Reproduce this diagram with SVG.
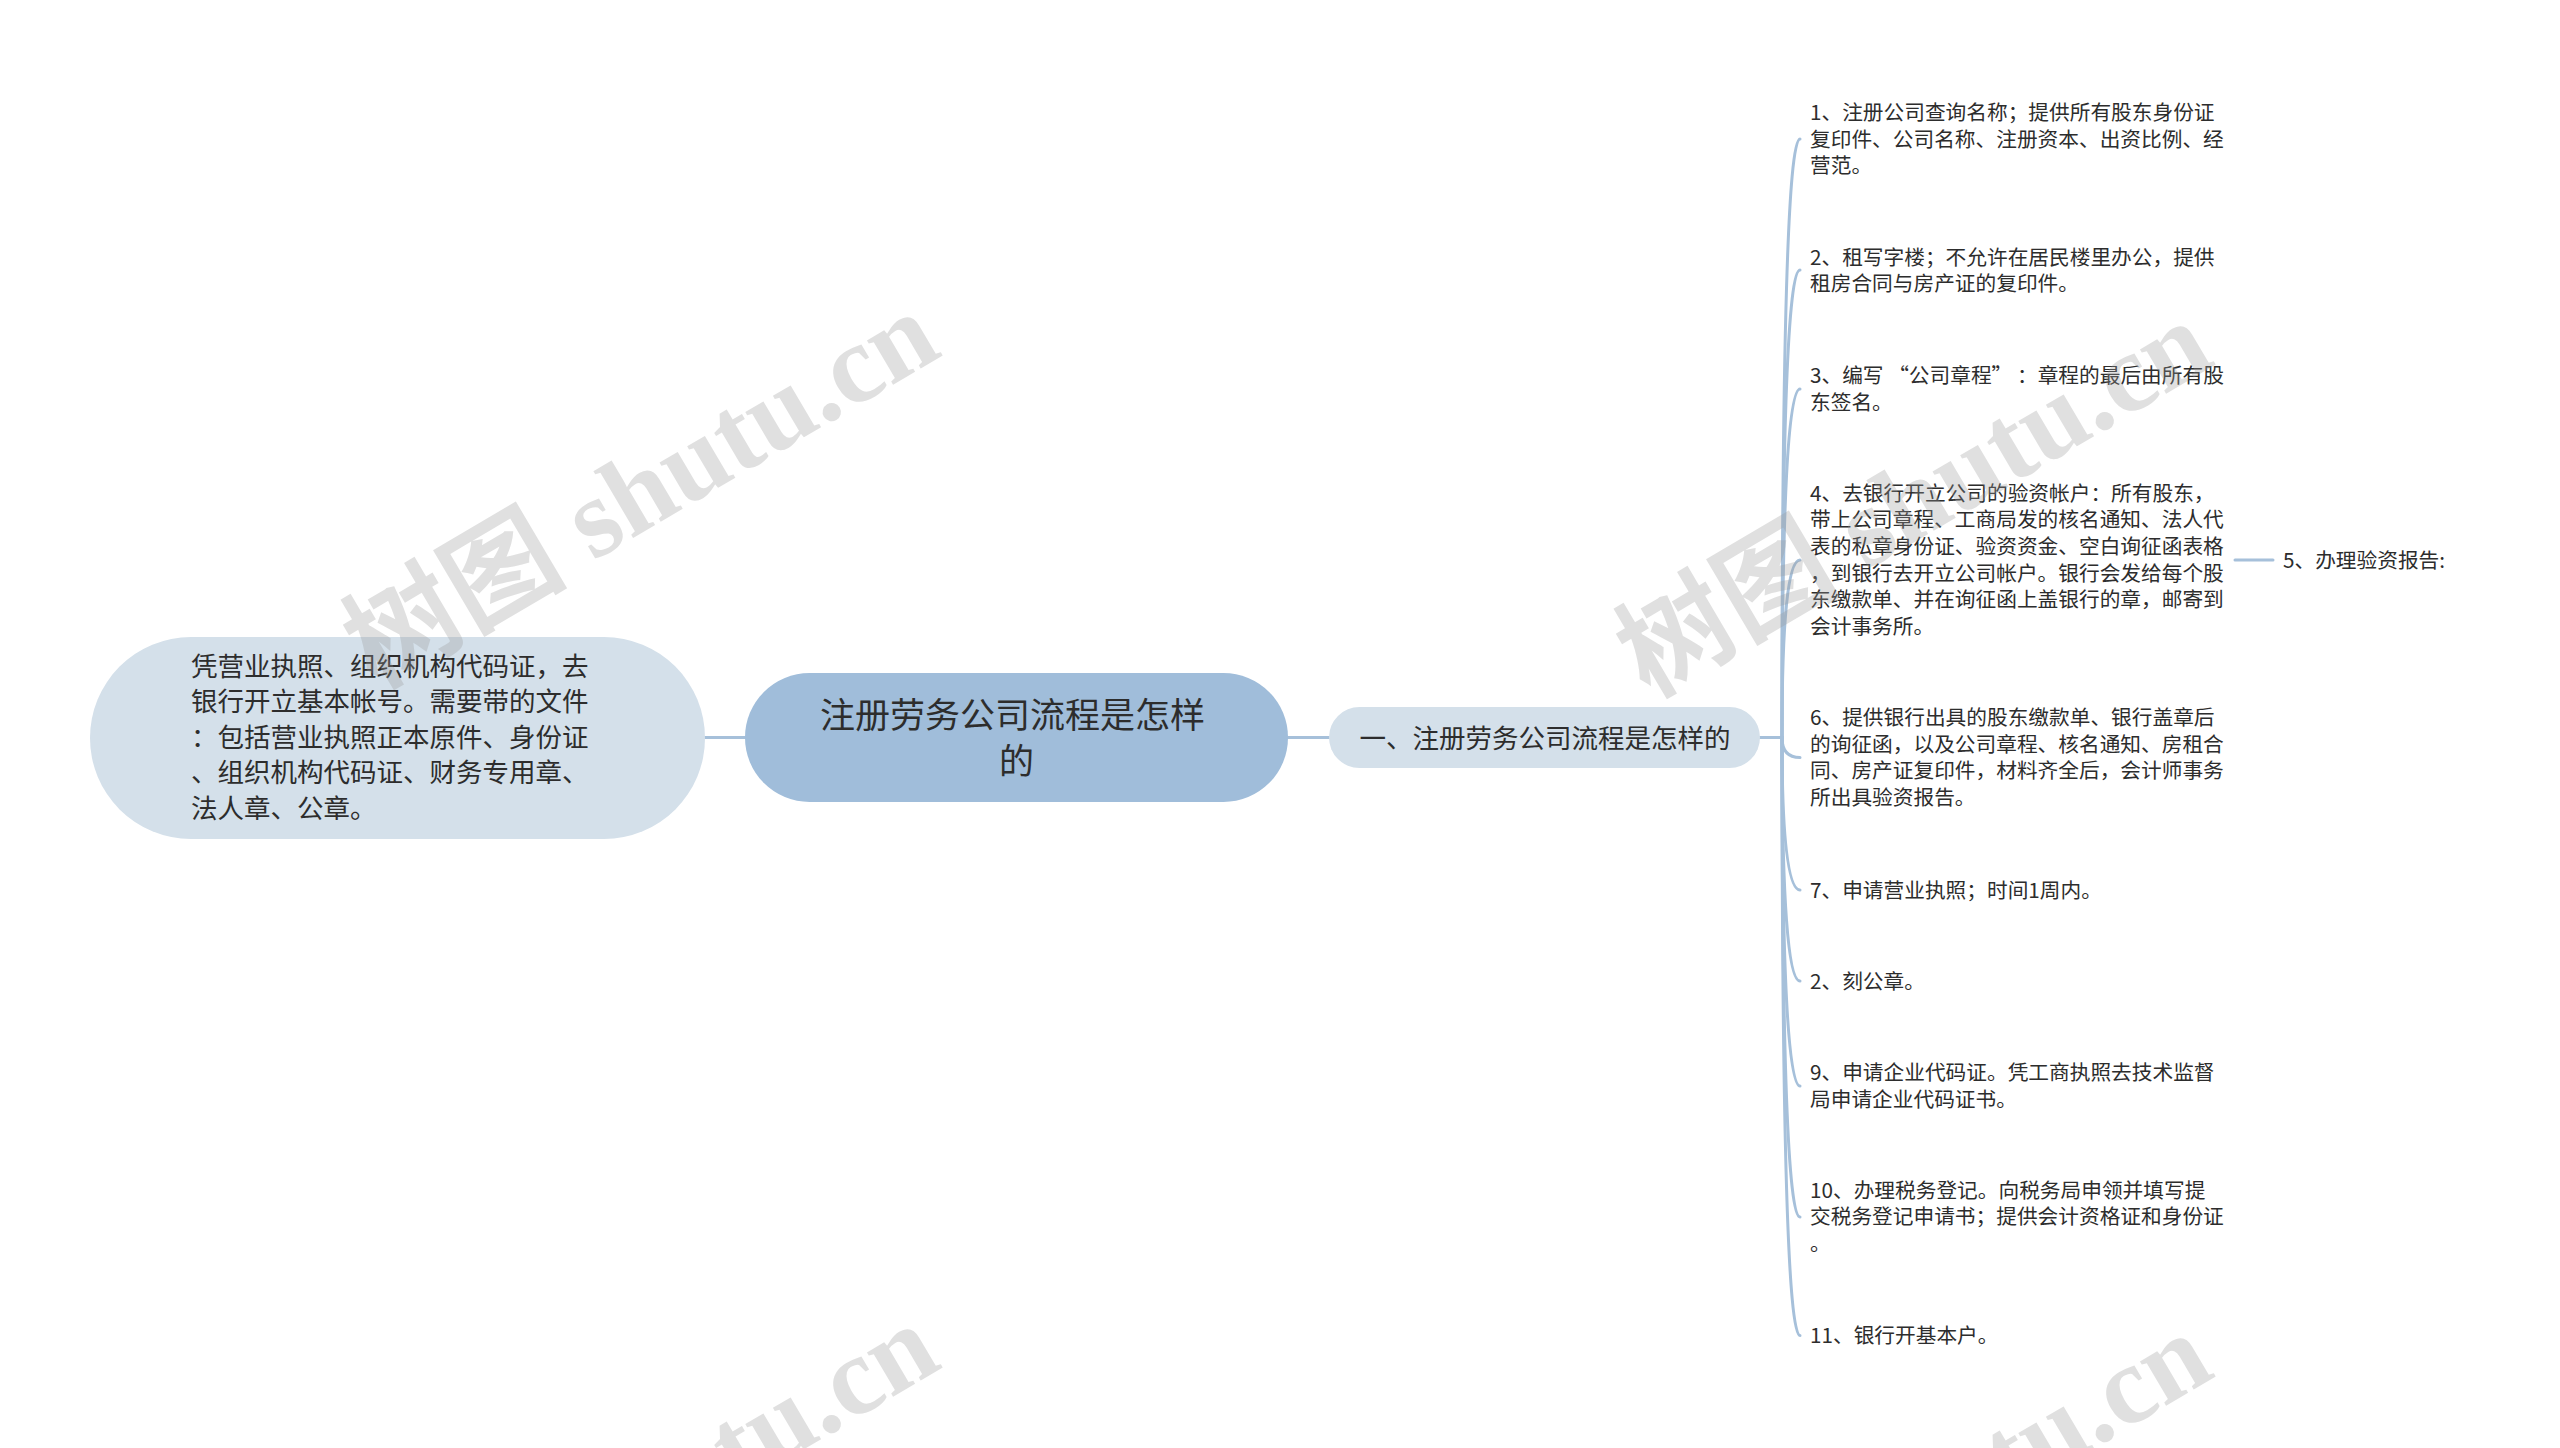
<svg xmlns="http://www.w3.org/2000/svg" width="2560" height="1448" viewBox="0 0 2560 1448">
<style>
.t{font-family:"Noto Sans CJK SC","Noto Sans",sans-serif;fill:#2d2d2d}
.leaf{font-size:20.7px}
.lnk{fill:none;stroke:#a6c0da;stroke-width:3;stroke-linecap:round}
.wm{font-family:"Liberation Serif","Noto Sans CJK SC",serif;font-size:112px;fill:#9a9a9a;opacity:0.3;font-weight:bold}
</style>
<rect width="2560" height="1448" fill="#ffffff"/>
<g id="connectors">
<path class="lnk" d="M705 737.5 H745"/>
<path class="lnk" d="M1288 737.5 H1329"/>
<path class="lnk" d="M1760 737.5 H1782"/>
<path class="lnk" d="M1782 737.5 Q1782 139 1800 139"/>
<path class="lnk" d="M1782 737.5 Q1782 270 1800 270"/>
<path class="lnk" d="M1782 737.5 Q1782 389 1800 389"/>
<path class="lnk" d="M1782 737.5 Q1782 560 1800 560"/>
<path class="lnk" d="M1782 737.5 Q1782 757.5 1800 757.5"/>
<path class="lnk" d="M1782 737.5 Q1782 890 1800 890"/>
<path class="lnk" d="M1782 737.5 Q1782 981 1800 981"/>
<path class="lnk" d="M1782 737.5 Q1782 1086 1800 1086"/>
<path class="lnk" d="M1782 737.5 Q1782 1217 1800 1217"/>
<path class="lnk" d="M1782 737.5 Q1782 1335.5 1800 1335.5"/>
<path class="lnk" d="M2235 560 H2273"/>
</g>
<g id="node-left">
<rect x="90" y="637" width="615" height="202" rx="101" ry="101" fill="#d4e0ea"/>
<text class="t" font-size="26.5">
<tspan x="191" y="675.5">凭营业执照、组织机构代码证，去</tspan>
<tspan x="191" y="711">银行开立基本帐号。需要带的文件</tspan>
<tspan x="191" y="746.5">：包括营业执照正本原件、身份证</tspan>
<tspan x="191" y="782">、组织机构代码证、财务专用章、</tspan>
<tspan x="191" y="817.5">法人章、公章。</tspan>
</text>
</g>
<g id="node-root">
<rect x="745" y="673" width="543" height="129" rx="64.5" ry="64.5" fill="#a0bdda"/>
<text class="t" font-size="35" text-anchor="middle">
<tspan x="1016.5" y="727.5">注册劳务公司流程是怎样</tspan>
<tspan x="1016.5" y="773.5">的</tspan>
</text>
</g>
<g id="node-l1">
<rect x="1329" y="707" width="431" height="61" rx="30.5" ry="30.5" fill="#d4e0ea"/>
<text class="t" font-size="26.5" text-anchor="middle" x="1545" y="747.5">一、注册劳务公司流程是怎样的</text>
</g>
<g id="leaf-1">
<text class="t leaf"><tspan x="1810" y="120">1、注册公司查询名称；提供所有股东身份证</tspan><tspan x="1810" y="146.7">复印件、公司名称、注册资本、出资比例、经</tspan><tspan x="1810" y="173.4">营范。</tspan></text>
</g>
<g id="leaf-2">
<text class="t leaf"><tspan x="1810" y="264.5">2、租写字楼；不允许在居民楼里办公，提供</tspan><tspan x="1810" y="291.2">租房合同与房产证的复印件。</tspan></text>
</g>
<g id="leaf-3">
<text class="t leaf"><tspan x="1810" y="383">3、编写 “公司章程” ：章程的最后由所有股</tspan><tspan x="1810" y="409.7">东签名。</tspan></text>
</g>
<g id="leaf-4">
<text class="t leaf"><tspan x="1810" y="500.5">4、去银行开立公司的验资帐户：所有股东，</tspan><tspan x="1810" y="527.2">带上公司章程、工商局发的核名通知、法人代</tspan><tspan x="1810" y="553.9">表的私章身份证、验资资金、空白询征函表格</tspan><tspan x="1810" y="580.6">，到银行去开立公司帐户。银行会发给每个股</tspan><tspan x="1810" y="607.3">东缴款单、并在询征函上盖银行的章，邮寄到</tspan><tspan x="1810" y="634">会计事务所。</tspan></text>
</g>
<g id="leaf-5">
<text class="t leaf" x="2283" y="567.5">5、办理验资报告:</text>
</g>
<g id="leaf-6">
<text class="t leaf"><tspan x="1810" y="725">6、提供银行出具的股东缴款单、银行盖章后</tspan><tspan x="1810" y="751.7">的询征函，以及公司章程、核名通知、房租合</tspan><tspan x="1810" y="778.4">同、房产证复印件，材料齐全后，会计师事务</tspan><tspan x="1810" y="805.1">所出具验资报告。</tspan></text>
</g>
<g id="leaf-7">
<text class="t leaf" x="1810" y="897.5">7、申请营业执照；时间1周内。</text>
</g>
<g id="leaf-8">
<text class="t leaf" x="1810" y="988.5">2、刻公章。</text>
</g>
<g id="leaf-9">
<text class="t leaf"><tspan x="1810" y="1080">9、申请企业代码证。凭工商执照去技术监督</tspan><tspan x="1810" y="1106.7">局申请企业代码证书。</tspan></text>
</g>
<g id="leaf-10">
<text class="t leaf"><tspan x="1810" y="1197.5">10、办理税务登记。向税务局申领并填写提</tspan><tspan x="1810" y="1224.2">交税务登记申请书；提供会计资格证和身份证</tspan><tspan x="1810" y="1250.9">。</tspan></text>
</g>
<g id="leaf-11">
<text class="t leaf" x="1810" y="1343">11、银行开基本户。</text>
</g>
<g id="watermark">
<text class="wm" text-anchor="middle" transform="translate(660 522) rotate(-30.5)">树图 shutu.cn</text>
<text class="wm" text-anchor="middle" transform="translate(1933 531) rotate(-30.5)">树图 shutu.cn</text>
<text class="wm" text-anchor="middle" transform="translate(660 1534) rotate(-30.5)">树图 shutu.cn</text>
<text class="wm" text-anchor="middle" transform="translate(1933 1543) rotate(-30.5)">树图 shutu.cn</text>
</g>
</svg>
